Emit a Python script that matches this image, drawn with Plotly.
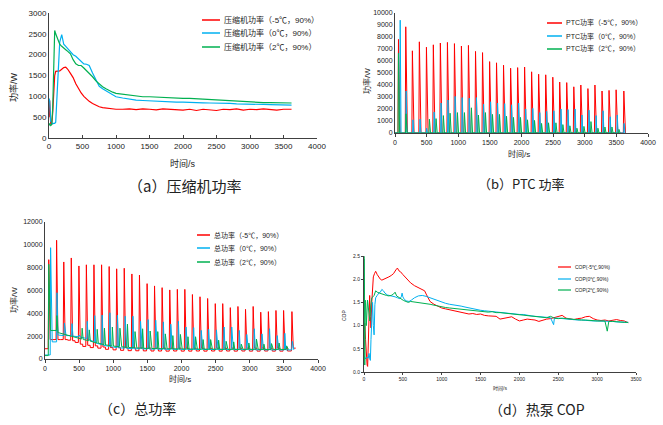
import plotly.graph_objects as go

# ---------------- data ----------------
# (a) compressor power, W
comp_t = [0, 10, 25, 40, 55, 70, 85, 100, 130, 160, 190, 220, 250, 280, 320, 360, 400, 440, 480, 520,
          560, 600, 650, 700, 750, 800, 850, 900, 950, 1000, 1100, 1200, 1300, 1400, 1500, 1600, 1700,
          1800, 1900, 2000, 2100, 2200, 2300, 2400, 2500, 2600, 2700, 2800, 2900, 3000, 3100, 3200,
          3300, 3400, 3500, 3600, 3620]
comp_red = [500, 900, 350, 320, 600, 1200, 1500, 1600, 1600, 1610, 1650, 1690, 1700, 1650, 1550, 1450,
            1300, 1180, 1080, 1000, 930, 880, 830, 780, 750, 730, 720, 705, 700, 690,
            690, 700, 680, 700, 690, 675, 700, 690, 680, 670, 690, 660, 690, 670, 660, 690, 680, 700,
            670, 690, 680, 700, 690, 670, 690, 680, 690]
comp_blue = [950, 900, 400, 350, 340, 350, 350, 380, 1400, 2300, 2480, 2250, 2200, 2150, 2060, 2000,
             1960, 1900, 1840, 1780, 1770, 1740, 1560, 1400, 1240, 1180, 1130, 1070, 1030, 990,
             960, 930, 910, 900, 890, 880, 870, 870, 860, 860, 850, 850, 845, 840, 840, 830, 830, 820,
             820, 815, 810, 805, 800, 795, 790, 790, 790]
comp_green = [300, 350, 300, 320, 700, 1800, 2580, 2500, 2350, 2250, 2200, 2150, 2120, 2080, 2020, 1880,
              1780, 1740, 1740, 1680, 1620, 1560, 1470, 1370, 1290, 1230, 1180, 1130, 1100, 1070,
              1050, 1030, 1010, 990, 990, 980, 970, 960, 950, 950, 950, 940, 930, 920, 910, 900, 890,
              880, 870, 860, 860, 850, 850, 850, 840, 840, 840]

# pulse times (s) for each condition
red_t = [55, 170, 275, 385, 497, 606, 717, 829, 940, 1050, 1161, 1273, 1384, 1496, 1605, 1716, 1828,
         1939, 2049, 2160, 2271, 2383, 2495, 2604, 2715, 2827, 2938, 3050, 3161, 3273, 3384, 3496, 3618]
blue_t = [82, 176, 284, 396, 500, 619, 728, 837, 950, 1062, 1174, 1288, 1400, 1511, 1622, 1734, 1843,
          1955, 2066, 2178, 2289, 2398, 2512, 2624, 2736, 2847, 2956, 3067, 3179, 3290, 3402, 3514, 3622]
green_t = [55, 174, 544, 649, 765, 871, 987, 1098, 1208, 1319, 1430, 1541, 1652, 1763, 1873, 1984, 2095,
           2206, 2317, 2427, 2544, 2654, 2765, 2876, 2987, 3098, 3208, 3319, 3430, 3541]

# (b) PTC power peaks, W
ptc_red = [7800, 8850, 6850, 7600, 7150, 7350, 7500, 7550, 7450, 7250, 7300, 6800, 6700, 5950, 5850,
           5650, 5400, 5450, 5500, 5100, 4900, 4850, 4650, 4250, 4200, 3850, 4000, 3700, 4000, 3500,
           3550, 3600, 3500]
ptc_blue = [9400, 3500, 1100, 1150, 400, 1750, 2500, 2750, 3050, 2950, 2900, 2950, 2400, 2600, 2500,
            2450, 2350, 2500, 2000, 2050, 1700, 1800, 1850, 2000, 1950, 2000, 1500, 1900, 1450, 1850,
            1350, 1500, 800]
ptc_green = [6650, 1600, 1150, 1200, 1450, 1650, 1700, 1700, 2100, 1500, 1700, 1550, 1550, 1400, 1300,
             1300, 1100, 1050, 800, 850, 850, 700, 600, 400, 550, 950, 400, 500, 500, 300]

# (c) total power: peaks, troughs before each pulse, level right after each pulse, W
tot_red_peak = [8700, 10400, 8500, 8850, 8150, 8250, 8250, 8250, 8100, 7900, 7950, 7450, 7350, 6600,
                6400, 6250, 6050, 6100, 6100, 5650, 5450, 5300, 4850, 4850, 4500, 4600, 4350, 4600,
                4100, 4150, 4250, 4250, 4150]
tot_red_trough = [900, 1700, 1700, 1650, 1450, 1100, 1000, 950, 850, 800, 760, 730, 720, 710, 700, 700,
                  690, 700, 690, 690, 700, 690, 700, 690, 700, 690, 700, 690, 690, 700, 690, 690, 700]
tot_red_after = [1700, 1700, 1700, 1600, 1300, 1200, 1150, 1050, 1000, 1000, 980, 980, 960, 960, 950,
                 950, 950, 950, 950, 950, 950, 950, 950, 950, 950, 950, 950, 950, 950, 950, 950, 950, 950]
tot_blue_peak = [9750, 5800, 3150, 3100, 2100, 3300, 3800, 3850, 4050, 3850, 3750, 3750, 3300, 3450,
                 3400, 3250, 3050, 3300, 2800, 2750, 2500, 2600, 2550, 2800, 2800, 2500, 2150, 2650,
                 2200, 2650, 2050, 2250, 1550]
tot_blue_trough = [350, 1500, 2050, 2050, 1950, 1800, 1500, 1250, 1100, 1000, 950, 900, 900, 880, 870,
                   860, 850, 850, 850, 840, 840, 830, 830, 830, 820, 820, 820, 810, 810, 800, 800, 800, 800]
tot_blue_after = [1500, 2100, 2050, 2000, 1900, 1700, 1400, 1200, 1070, 980, 930, 900, 890, 875, 865,
                  855, 850, 850, 845, 840, 835, 830, 830, 825, 820, 820, 815, 810, 805, 800, 800, 800, 800]
tot_green_peak = [8300, 3800, 2700, 2550, 2600, 2700, 2800, 2700, 3050, 2400, 2650, 2450, 2400, 2200,
                  2050, 2150, 1950, 1950, 1700, 1700, 1650, 1550, 1500, 1300, 1400, 1750, 1300, 1350,
                  1400, 1150]
tot_green_trough = [300, 2500, 1750, 1600, 1400, 1250, 1150, 1080, 1020, 980, 950, 930, 910, 900, 890,
                    880, 870, 870, 860, 860, 860, 850, 850, 850, 850, 850, 840, 840, 840, 840]
tot_green_after = [2500, 2300, 1700, 1550, 1380, 1230, 1130, 1070, 1010, 970, 940, 920, 905, 895, 885,
                   875, 870, 865, 860, 860, 855, 850, 850, 850, 850, 845, 840, 840, 840, 840]

# (d) heat pump COP
cop_red_t = [0, 10, 20, 30, 40, 47, 55, 65, 73, 82, 90, 100, 110, 120, 135, 150, 170, 190, 210, 230,
             260, 290, 320, 350, 380, 410, 430, 450, 470, 500, 530, 560, 600, 650, 700, 750, 780, 800,
             820, 850, 900, 950] + list(range(1000, 3401, 50))
cop_red = [0.9, 1.05, 0.7, 0.3, 0.15, 0.12, 0.6, 1.5, 1.65, 1.2, 0.95, 1.5, 1.95, 2.05, 2.12, 2.17, 2.1,
           2.05, 2.0, 1.98, 2.0, 2.02, 2.05, 2.08, 2.12, 2.2, 2.24, 2.18, 2.16, 2.1, 2.05, 1.98, 1.92,
           1.86, 1.82, 1.78, 1.75, 1.68, 1.6, 1.52, 1.46, 1.42,
           1.38, 1.36, 1.34, 1.32, 1.31, 1.28, 1.27, 1.25, 1.26, 1.24, 1.25, 1.22, 1.21, 1.2, 1.2, 1.14,
           1.16, 1.18, 1.19, 1.14, 1.1, 1.12, 1.14, 1.13, 1.12, 1.09, 1.12, 1.14, 1.15, 1.17, 1.2, 1.22,
           1.16, 1.14, 1.13, 1.15, 1.16, 1.19, 1.2, 1.15, 1.12, 1.11, 1.12, 1.1, 1.12, 1.13, 1.11, 1.1,
           1.06]
cop_blue_t = [0, 10, 20, 30, 40, 55, 65, 75, 82, 90, 100, 110, 120, 130, 140, 150, 170, 190, 210, 230,
              250, 270, 300, 330, 360, 400, 430, 460, 480, 490, 500, 520, 550, 580, 610, 650, 700, 750,
              800, 850, 900, 950] + list(range(1000, 2401, 50)) + [2440] + list(range(2450, 3401, 50))
cop_blue = [0.35, 0.3, 0.28, 0.3, 0.32, 0.3, 0.4, 0.28, 0.25, 0.7, 1.1, 1.5, 1.0, 0.8, 1.45, 1.6, 1.65,
            1.7, 1.72, 1.78, 1.75, 1.7, 1.66, 1.65, 1.63, 1.62, 1.6, 1.58, 1.62, 1.7, 1.62, 1.56, 1.53,
            1.52, 1.55, 1.6, 1.64, 1.65, 1.63, 1.6, 1.57, 1.54,
            1.5, 1.48, 1.46, 1.45, 1.43, 1.42, 1.4, 1.38, 1.36, 1.35, 1.33, 1.32, 1.31, 1.3, 1.29, 1.28,
            1.27, 1.27, 1.26, 1.25, 1.24, 1.24, 1.22, 1.21, 1.2, 1.19, 1.18, 1.18, 1.17,
            1.02,
            1.16, 1.16, 1.15, 1.14, 1.13, 1.13, 1.12, 1.12, 1.11, 1.11, 1.1, 1.1, 1.1, 1.09, 1.09, 1.09,
            1.08, 1.08, 1.08, 1.07]
cop_green_t = [0, 5, 10, 15, 20, 30, 40, 45, 55, 65, 75, 85, 100, 115, 130, 150, 170, 200, 230, 260, 290,
               320, 350, 380, 400, 420, 450, 480, 510, 540, 570, 600, 650, 700, 750, 800, 850, 900,
               950] + list(range(1000, 3101, 50)) + [3130] + list(range(3150, 3401, 50))
cop_green = [2.5, 2.45, 0.15, 1.55, 1.5, 1.0, 1.3, 1.55, 1.4, 1.2, 1.1, 1.4, 1.6, 1.62, 1.65, 1.75, 1.72,
             1.7, 1.68, 1.66, 1.65, 1.64, 1.65, 1.68, 1.72, 1.64, 1.6, 1.57, 1.54, 1.52, 1.5, 1.52, 1.51,
             1.5, 1.48, 1.47, 1.46, 1.44, 1.42,
             1.4, 1.39, 1.38, 1.37, 1.36, 1.35, 1.34, 1.33, 1.32, 1.31, 1.3, 1.3, 1.29, 1.3, 1.28, 1.28,
             1.27, 1.26, 1.25, 1.25, 1.24, 1.22, 1.21, 1.2, 1.19, 1.19, 1.18, 1.17, 1.2, 1.16, 1.15, 1.16,
             1.15, 1.14, 1.13, 1.13, 1.12, 1.12, 1.11, 1.1, 1.1, 1.1, 1.1,
             0.88,
             1.09, 1.09, 1.08, 1.08, 1.07, 1.07]

names_comp = ["压缩机功率（-5℃，90%）", "压缩机功率（0℃，90%）", "压缩机功率（2℃，90%）"]
names_ptc = ["PTC功率（-5℃，90%）", "PTC功率（0℃，90%）", "PTC功率（2℃，90%）"]
names_tot = ["总功率（-5℃，90%）", "总功率（0℃，90%）", "总功率（2℃，90%）"]
names_cop = ["COP(-5℃,90%)", "COP(0℃,90%)", "COP(2℃,90%)"]
captions = ["（a）压缩机功率", "（b）PTC 功率", "（c）总功率", "（d）热泵 COP"]

# ---------------- styling ----------------
RED, BLUE, GREEN = "#FF0000", "#00B0F0", "#00B050"
COLORS = [RED, BLUE, GREEN]
W, H = 663, 425
FONT = "Liberation Sans, Noto Sans CJK SC, sans-serif"
CJK = "Noto Sans CJK SC, sans-serif"
AXC = "#404040"


def px(x):
    return x / W


def py(y):
    return 1 - y / H


def pulses(times, peaks, troughs, after, rise, fall, hold, step):
    xs, ys = [], []
    n = len(times)
    for i in range(n):
        t = times[i]
        xs += [t - rise, t, t + fall, t + fall + hold]
        ys += [troughs[i], peaks[i], after[i], after[i]]
        if step and i + 1 < n:
            xs.append(t + fall + hold + 2)
            ys.append(troughs[i + 1])
    return xs, ys


fig = go.Figure()

# (a)
for ys, c in zip([comp_red, comp_blue, comp_green], COLORS):
    fig.add_trace(go.Scatter(x=comp_t, y=ys, mode="lines", line=dict(color=c, width=1.2),
                             xaxis="x", yaxis="y", showlegend=False))

# (b)
for tt, pk, c, rf in zip([red_t, blue_t, green_t], [ptc_red, ptc_blue, ptc_green], COLORS,
                         [(8, 26), (6, 14), (7, 18)]):
    z = [0] * len(tt)
    xs, ys = pulses(tt, pk, z, z, rf[0], rf[1], 0, False)
    fig.add_trace(go.Scatter(x=[0] + xs, y=[0] + ys, mode="lines", line=dict(color=c, width=1),
                             xaxis="x2", yaxis="y2", showlegend=False))

# (c)
specs = [(red_t, tot_red_peak, tot_red_trough, tot_red_after, 8, 20, 35, True),
         (blue_t, tot_blue_peak, tot_blue_trough, tot_blue_after, 6, 14, 10, False),
         (green_t, tot_green_peak, tot_green_trough, tot_green_after, 7, 16, 10, False)]
for (tt, pk, tr, af, r, f, h, st), c in zip(specs, COLORS):
    xs, ys = pulses(tt, pk, tr, af, r, f, h, st)
    fig.add_trace(go.Scatter(x=[0] + xs, y=[tr[0]] + ys, mode="lines", line=dict(color=c, width=1),
                             xaxis="x3", yaxis="y3", showlegend=False))

# (d)
for xs, ys, c in zip([cop_red_t, cop_blue_t, cop_green_t], [cop_red, cop_blue, cop_green], COLORS):
    fig.add_trace(go.Scatter(x=xs, y=ys, mode="lines", line=dict(color=c, width=1),
                             xaxis="x4", yaxis="y4", showlegend=False))


def xax(dom, rng, dt, fs, anchor, ticks="outside", tl=3):
    return dict(domain=[px(dom[0]), px(dom[1])], range=rng, dtick=dt, tick0=0, anchor=anchor,
                showgrid=False, zeroline=False, showline=True, linecolor=AXC, linewidth=1,
                ticks=ticks, ticklen=tl, tickcolor=AXC, automargin=False, tickformat="d",
                tickfont=dict(family=FONT, size=fs, color="#222"), fixedrange=True)


def yax(dom, rng, dt, fs, anchor, ticks="", tl=2, fmt="d"):
    return dict(domain=[py(dom[1]), py(dom[0])], range=rng, dtick=dt, tick0=0, anchor=anchor,
                showgrid=False, zeroline=False, showline=True, linecolor=AXC, linewidth=1,
                ticks=ticks, ticklen=tl, tickcolor=AXC, automargin=False, tickformat=fmt,
                tickfont=dict(family=FONT, size=fs, color="#222"), fixedrange=True)


fig.update_layout(
    width=W, height=H, margin=dict(l=0, r=0, t=0, b=0, autoexpand=False),
    paper_bgcolor="white", plot_bgcolor="white", showlegend=False,
    xaxis=xax((49, 317), [0, 4000], 500, 8, "y", "inside", 3),
    yaxis=yax((13, 138), [0, 3000], 500, 8, "x"),
    xaxis2=xax((395, 648), [0, 4000], 500, 7, "y2"),
    yaxis2=yax((13, 133), [0, 10000], 1000, 7, "x2"),
    xaxis3=xax((45, 318), [0, 4000], 500, 7, "y3"),
    yaxis3=yax((222, 359), [0, 12000], 2000, 7, "x3"),
    xaxis4=xax((364, 636), [0, 3500], 500, 5, "y4", "outside", 2),
    yaxis4=yax((256, 372), [0, 2.5], 0.5, 5, "x4", "outside", 2, ".1f"),
)

ann = []
shapes = []


def text(x, y, s, size, anchor="center", angle=0, family=FONT):
    ann.append(dict(x=px(x), y=py(y), xref="paper", yref="paper", text=s, showarrow=False,
                    xanchor=anchor, yanchor="middle", textangle=angle,
                    font=dict(family=family, size=size, color="#222")))


def legend(x0, x1, ys, names, size, lw):
    for yy, nm, c in zip(ys, names, COLORS):
        shapes.append(dict(type="line", xref="paper", yref="paper", x0=px(x0), x1=px(x1),
                           y0=py(yy), y1=py(yy), line=dict(color=c, width=lw)))
        text(x1 + 2, yy, nm, size, "left")


legend(202, 220, [20, 33, 47], names_comp, 8, 1.5)
legend(547, 562, [23, 36, 49], names_ptc, 7, 1.5)
legend(197, 210, [235, 248, 262], names_tot, 7, 1.5)
legend(558, 571, [267, 279, 290], names_cop, 5, 1.2)

# axis titles
text(183, 163, "时间/s", 9)
text(13, 87, "功率/W", 9, angle=-90)
text(519, 154, "时间/s", 8)
text(367, 81, "功率/W", 8, angle=-90)
text(180, 379, "时间/s", 8)
text(14, 300, "功率/W", 8, angle=-90)
text(500, 388, "时间/s", 5)
text(344, 315, "COP", 5, angle=-90)

# captions
text(184, 185, captions[0], 15, family=CJK)
text(521, 184, captions[1], 13, family=CJK)
text(137, 408, captions[2], 14, family=CJK)
text(537, 409, captions[3], 14, family=CJK)

fig.update_layout(annotations=ann, shapes=shapes)
fig.write_html("out.html", config={"displayModeBar": False},
               post_script="document.body.style.margin='0';document.body.style.overflow='hidden';")
